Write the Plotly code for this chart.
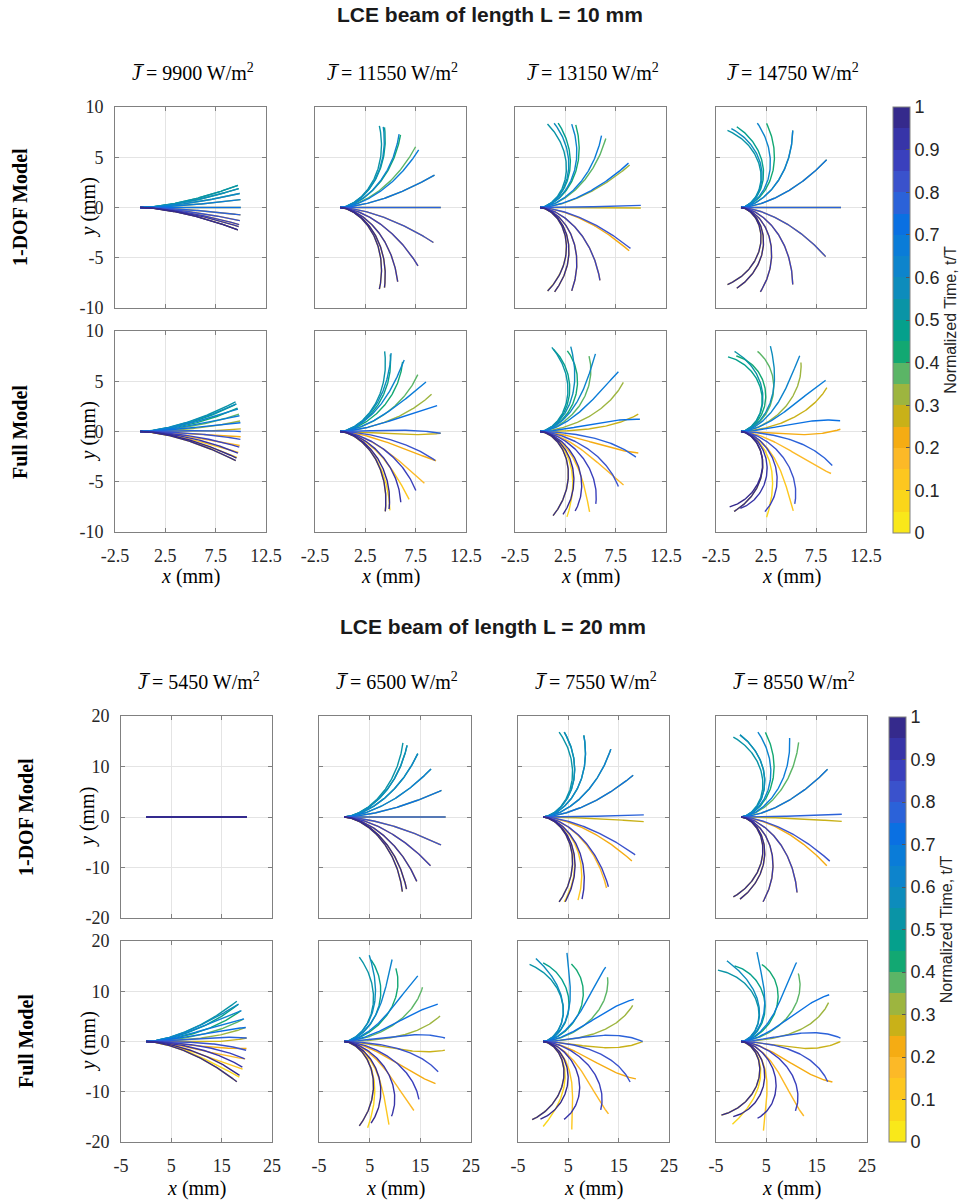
import numpy as np
import plotly.graph_objects as go

# ---------------- data ----------------
# normalised time of each plotted beam shape (t/T)
T = [0.0, 0.05, 0.1, 0.15, 0.2, 0.25, 0.3, 0.35, 0.4, 0.45, 0.5,
     0.55, 0.6, 0.65, 0.7, 0.75, 0.8, 0.85, 0.9, 0.95, 1.0]

# tip bearing (deg, angle of the line origin->tip) for every time step
L10_DOF_9900 = [-12.9, -11.0, -9.8, -7.5, -4.2, 0.0, 4.5, 8.0, 10.9, 12.8, 12.8,
                10.9, 8.0, 4.5, 0.0, -4.2, -7.5, -9.8, -11.0, -12.9, -12.9]
L10_DOF_11550 = [-64.4, -61.1, -52.3, -36.9, -20.6, 0.0, 19.0, 38.9, 50.3, 61.1, 64.4,
                 61.9, 51.3, 36.3, 19.0, 0.0, -20.6, -36.9, -52.3, -61.1, -64.4]
L10_DOF_13150 = [-85.0, -80.3, -69.3, -50.7, -26.0, -0.3, 25.4, 46.5, 66.7, 78.0, 85.0,
                 80.6, 69.3, 49.6, 26.7, 1.2, -24.4, -50.7, -69.3, -80.3, -84.9]
L10_DOF_14750 = [-100.0, -93.0, -77.0, -56.0, -30.0, 0.0, 29.0, 56.0, 73.0, 93.0, 100.0,
                 97.0, 79.0, 56.0, 29.0, 0.0, -30.0, -56.0, -77.0, -93.0, -100.0]

L10_FULL_9900 = [-17.0, -15.0, -12.0, -8.0, -3.0, 1.5, 6.0, 10.0, 13.5, 16.0, 17.3,
                 16.0, 13.0, 9.0, 5.0, 0.0, -4.5, -9.0, -12.5, -15.5, -17.0]
L10_FULL_11550 = [-60.6, -57.8, -44.6, -31.6, -17.0, -1.0, 22.2, 36.3, 48.2, 57.0, 61.0,
                  57.0, 48.2, 30.0, 15.0, -1.0, -17.0, -38.0, -49.5, -57.8, -60.6]
L10_FULL_13150 = [-81.3, -72.6, -58.5, -32.7, -12.4, 10.0, 30.6, 57.1, 71.4, 81.0, 82.1,
                  70.2, 54.6, 37.4, 7.0, -15.0, -35.2, -52.5, -66.3, -74.6, -81.3]
L10_FULL_14750 = [-95.0, -73.3, -56.5, -24.9, 1.3, 26.9, 48.9, 78.3, 93.6, 99.9, 94.6,
                  70.9, 52.1, 31.0, 6.2, -20.4, -53.3, -73.3, -90.5, -98.6, -95.0]

L20_DOF_5450 = [0.0] * 21
L20_DOF_6500 = [-52.2, -49.3, -41.7, -29.6, -16.2, 0.0, 15.4, 29.1, 40.9, 48.9, 51.8,
                48.9, 40.9, 29.1, 15.4, 0.0, -16.2, -29.6, -41.7, -49.3, -52.2]
L20_DOF_7550 = [-79.3, -76.0, -67.2, -48.2, -26.3, -2.6, 24.8, 45.0, 63.5, 76.0, 79.3,
                76.0, 63.5, 45.0, 24.8, 1.2, -22.3, -46.8, -64.6, -75.4, -79.3]
L20_DOF_8550 = [-95.6, -90.8, -75.5, -53.4, -29.6, -2.5, 28.8, 52.3, 74.0, 90.8, 95.6,
                90.8, 78.8, 58.4, 28.8, 1.6, -26.4, -53.4, -75.5, -90.8, -95.6]

L20_FULL_5450 = [-24.0, -21.0, -16.0, -10.0, -4.0, 2.0, 8.0, 13.0, 18.0, 22.0, 24.0,
                 22.0, 18.0, 13.0, 8.0, 2.0, -5.0, -10.0, -15.0, -20.0, -24.0]
L20_FULL_6500 = [-80.0, -75.0, -62.0, -45.0, -25.0, -5.0, 15.0, 35.0, 55.0, 72.0, 80.0,
                 74.0, 60.0, 42.0, 22.0, 2.0, -18.0, -38.0, -58.0, -72.0, -80.0]
L20_FULL_7550 = [-98.0, -90.0, -72.0, -48.0, -22.0, 0.0, 22.0, 45.0, 70.0, 90.0, 100.0,
                 95.0, 75.0, 50.0, 25.0, 0.0, -25.0, -50.0, -75.0, -92.0, -98.0]
L20_FULL_8550 = [-105.0, -96.0, -76.0, -50.0, -24.0, 0.0, 24.0, 50.0, 75.0, 95.0, 108.0,
                 100.0, 80.0, 55.0, 28.0, 2.0, -25.0, -52.0, -78.0, -96.0, -105.0]

# extra bending concentrated near the free end (deg), full model only
NO_LEAD = [0.0] * 21
LEAD_L10_9900 = [0, 3, 6, 6, 6, 6, 6, 6, 6, 3, 0, -3, -6, -6, -6, -6, -6, -6, -6, -3, 0]
LEAD_L10_11550 = [0, 8, 15, 15, 15, 15, 15, 15, 15, 8, 0, -8, -15, -15, -15, -15, -15, -15, -15, -8, 0]
LEAD_L10_13150 = [0, 12, 25, 25, 25, 25, 25, 25, 25, 12, 0, -12, -25, -25, -25, -25, -25, -25, -25, -12, 0]
LEAD_L10_14750 = [0, 15, 30, 30, 30, 30, 30, 30, 30, 15, 0, -15, -30, -30, -30, -30, -30, -30, -30, -15, 0]
LEAD_L20_5450 = [0, 8, 15, 15, 15, 15, 15, 15, 15, 8, 0, -8, -15, -15, -15, -15, -15, -15, -15, -8, 0]
LEAD_L20_6500 = [0, 18, 35, 35, 35, 35, 35, 35, 35, 18, 0, -18, -35, -35, -35, -35, -35, -35, -35, -18, 0]
LEAD_L20_7550 = [0, 22, 45, 45, 45, 45, 45, 45, 45, 22, 0, -22, -45, -45, -45, -45, -45, -45, -45, -22, 0]
LEAD_L20_8550 = [0, 25, 50, 50, 50, 50, 50, 50, 50, 25, 0, -25, -50, -50, -50, -50, -50, -50, -50, -25, 0]

TITLES_L10 = ["9900", "11550", "13150", "14750"]
TITLES_L20 = ["5450", "6500", "7550", "8550"]

X_TICKS_L10 = [-2.5, 2.5, 7.5, 12.5]
X_TICKTEXT_L10 = ["-2.5", "2.5", "7.5", "12.5"]
Y_TICKS_L10 = [-10, -5, 0, 5, 10]
Y_TICKTEXT_L10 = ["-10", "-5", "0", "5", "10"]
X_TICKS_L20 = [-5, 5, 15, 25]
X_TICKTEXT_L20 = ["-5", "5", "15", "25"]
Y_TICKS_L20 = [-20, -10, 0, 10, 20]
Y_TICKTEXT_L20 = ["-20", "-10", "0", "10", "20"]

CB_TICKS = [0, 0.1, 0.2, 0.3, 0.4, 0.5, 0.6, 0.7, 0.8, 0.9, 1]
CB_TICKTEXT = ["0", "0.1", "0.2", "0.3", "0.4", "0.5", "0.6", "0.7", "0.8", "0.9", "1"]

# ---------------- style ----------------
BAND_COLORS = ['#f9e81a', '#fad61a', '#fdc71f', '#fcb927', '#f5ac13', '#c9b118',
               '#9db53f', '#5bb566', '#12a872', '#05a08c', '#0a94a6', '#0d8cbc',
               '#0d84cc', '#0a7cd8', '#0a70e2', '#2b62d9', '#3a52cc', '#3a40bd',
               '#3734a8', '#352a8c']
P_BASE, Q_TIP = 0.6, 2.5
W, H = 972, 1201
SERIF = "Liberation Serif, Times New Roman, serif"
SANS = "Liberation Sans, Arial, sans-serif"
FRAME = '#808080'
GRID = '#e4e4e4'


def shape(a_deg, b_deg, length, n=90):
    u = np.linspace(0.0, 1.0, n)
    th = np.radians(a_deg) * u ** P_BASE + np.radians(b_deg) * u ** Q_TIP
    du = u[1] - u[0]
    c, s = np.cos(th), np.sin(th)
    x = length * np.concatenate([[0.0], np.cumsum((c[1:] + c[:-1]) * 0.5 * du)])
    y = length * np.concatenate([[0.0], np.cumsum((s[1:] + s[:-1]) * 0.5 * du)])
    return x, y


def beam(phi, lead, length):
    lo, hi = -200.0, 200.0
    for _ in range(60):
        mid = 0.5 * (lo + hi)
        x, y = shape(mid, lead, length)
        if np.degrees(np.arctan2(y[-1], x[-1])) < phi:
            lo = mid
        else:
            hi = mid
    return shape(0.5 * (lo + hi), lead, length)


def px_x(p):
    return p / W


def px_y(p):
    return 1 - p / H


COLS_L10 = [(115, 266), (315, 466), (515, 666), (716, 866)]
COLS_L20 = [(121, 272), (319, 471), (518, 669), (716, 867)]
ROWS_L10 = [(107, 308), (331, 532)]
ROWS_L20 = [(716, 918), (941, 1142)]

panels = []
for c, (dof, full, ld) in enumerate(zip(
        [L10_DOF_9900, L10_DOF_11550, L10_DOF_13150, L10_DOF_14750],
        [L10_FULL_9900, L10_FULL_11550, L10_FULL_13150, L10_FULL_14750],
        [LEAD_L10_9900, LEAD_L10_11550, LEAD_L10_13150, LEAD_L10_14750])):
    panels.append(dict(L=10, row=0, col=c, phi=dof, lead=NO_LEAD, cols=COLS_L10, rows=ROWS_L10))
    panels.append(dict(L=10, row=1, col=c, phi=full, lead=ld, cols=COLS_L10, rows=ROWS_L10))
for c, (dof, full, ld) in enumerate(zip(
        [L20_DOF_5450, L20_DOF_6500, L20_DOF_7550, L20_DOF_8550],
        [L20_FULL_5450, L20_FULL_6500, L20_FULL_7550, L20_FULL_8550],
        [LEAD_L20_5450, LEAD_L20_6500, LEAD_L20_7550, LEAD_L20_8550])):
    panels.append(dict(L=20, row=0, col=c, phi=dof, lead=NO_LEAD, cols=COLS_L20, rows=ROWS_L20))
    panels.append(dict(L=20, row=1, col=c, phi=full, lead=ld, cols=COLS_L20, rows=ROWS_L20))

fig = go.Figure()
layout_axes = {}
tickfont = dict(family=SERIF, size=18, color='#262626')

for i, pnl in enumerate(panels):
    n = i + 1
    xa = 'x' if n == 1 else f'x{n}'
    ya = 'y' if n == 1 else f'y{n}'
    L = pnl['L']
    for k, (t, ph, ld) in enumerate(zip(T, pnl['phi'], pnl['lead'])):
        x, y = beam(ph, ld, L)
        col = BAND_COLORS[min(int(round(t * 20)), 19)]
        fig.add_trace(go.Scatter(x=x, y=y, mode='lines', xaxis=xa, yaxis=ya,
                                 line=dict(color=col, width=1.4),
                                 hoverinfo='skip', showlegend=False))
    x0, x1 = pnl['cols'][pnl['col']]
    y0, y1 = pnl['rows'][pnl['row']]
    if L == 10:
        xr, xt, xtt, yr, yt, ytt = [-2.5, 12.5], X_TICKS_L10, X_TICKTEXT_L10, [-10, 10], Y_TICKS_L10, Y_TICKTEXT_L10
    else:
        xr, xt, xtt, yr, yt, ytt = [-5, 25], X_TICKS_L20, X_TICKTEXT_L20, [-20, 20], Y_TICKS_L20, Y_TICKTEXT_L20
    common = dict(showgrid=True, gridcolor=GRID, gridwidth=1, zeroline=False,
                  showline=True, linecolor=FRAME, linewidth=1, mirror='allticks',
                  ticks='inside', ticklen=4, tickcolor=FRAME, tickfont=tickfont,
                  fixedrange=True, ticklabelstandoff=7, automargin=False)
    layout_axes['xaxis' if n == 1 else f'xaxis{n}'] = dict(
        domain=[px_x(x0), px_x(x1)], range=xr, tickvals=xt, ticktext=xtt,
        showticklabels=(pnl['row'] == 1), anchor=ya, **common)
    layout_axes['yaxis' if n == 1 else f'yaxis{n}'] = dict(
        domain=[px_y(y1), px_y(y0)], range=yr, tickvals=yt, ticktext=ytt,
        showticklabels=(pnl['col'] == 0), anchor=xa, **common)

# discrete colour scale for the colour bars
cscale = []
for j, c in enumerate(BAND_COLORS):
    cscale.append([j / 20, c])
    cscale.append([(j + 1) / 20, c])


def cbar_trace(xpx, ytop, ybot, xa, ya):
    return go.Scatter(
        x=[0, 0], y=[0, 0], mode='markers', xaxis=xa, yaxis=ya, hoverinfo='skip',
        showlegend=False,
        marker=dict(size=1, opacity=0, color=[0, 1], cmin=0, cmax=1, colorscale=cscale,
                    showscale=True,
                    colorbar=dict(thickness=17, thicknessmode='pixels',
                                  len=ybot - ytop, lenmode='pixels',
                                  x=px_x(xpx), xanchor='left',
                                  y=px_y((ytop + ybot) / 2), yanchor='middle',
                                  xpad=0, ypad=0, outlinewidth=1, outlinecolor=FRAME,
                                  tickvals=CB_TICKS, ticktext=CB_TICKTEXT,
                                  ticks='inside', ticklen=4, tickcolor='#555555',
                                  tickfont=dict(family=SANS, size=18, color='#262626'),
                                  title=dict(text='Normalized Time, t/T', side='right',
                                             font=dict(family=SANS, size=16, color='#262626')))))


fig.add_trace(cbar_trace(893, 107, 533, 'x', 'y'))
fig.add_trace(cbar_trace(889, 717, 1142, 'x9', 'y9'))

ann = []


def text(x, y, s, size, family, angle=0, color='#000000'):
    ann.append(dict(x=px_x(x), y=px_y(y), xref='paper', yref='paper', text=s,
                    showarrow=False, textangle=angle, xanchor='center', yanchor='middle',
                    font=dict(family=family, size=size, color=color)))


text(490, 15, '<b>LCE beam of length L = 10 mm</b>', 21, SANS, color='#1a1a1a')
text(493, 626, '<b>LCE beam of length L = 20 mm</b>', 21, SANS, color='#1a1a1a')
for c, jv in enumerate(TITLES_L10):
    x0, x1 = COLS_L10[c]
    text((x0 + x1) / 2 + 2, 72, f'<i>J\u0305</i> = {jv} W/m<sup>2</sup>', 20, SERIF)
    text((x0 + x1) / 2, 577, '<i>x</i> (mm)', 20, SERIF)
for c, jv in enumerate(TITLES_L20):
    x0, x1 = COLS_L20[c]
    text((x0 + x1) / 2 + 2, 681, f'<i>J\u0305</i> = {jv} W/m<sup>2</sup>', 20, SERIF)
    text((x0 + x1) / 2, 1188, '<i>x</i> (mm)', 20, SERIF)

for (r0, r1) in ROWS_L10:
    text(88, (r0 + r1) / 2, '<i>y</i> (mm)', 20, SERIF, angle=-90)
for (r0, r1) in ROWS_L20:
    text(88, (r0 + r1) / 2, '<i>y</i> (mm)', 20, SERIF, angle=-90)
text(20, 207, '<b>1-DOF Model</b>', 20, SERIF, angle=-90)
text(20, 432, '<b>Full Model</b>', 20, SERIF, angle=-90)
text(26, 817, '<b>1-DOF Model</b>', 20, SERIF, angle=-90)
text(26, 1041, '<b>Full Model</b>', 20, SERIF, angle=-90)

fig.update_layout(width=W, height=H,
                  margin=dict(l=0, r=0, t=0, b=0, pad=0, autoexpand=False),
                  paper_bgcolor='white', plot_bgcolor='white',
                  annotations=ann, showlegend=False, **layout_axes)

fig.write_html("out.html")
